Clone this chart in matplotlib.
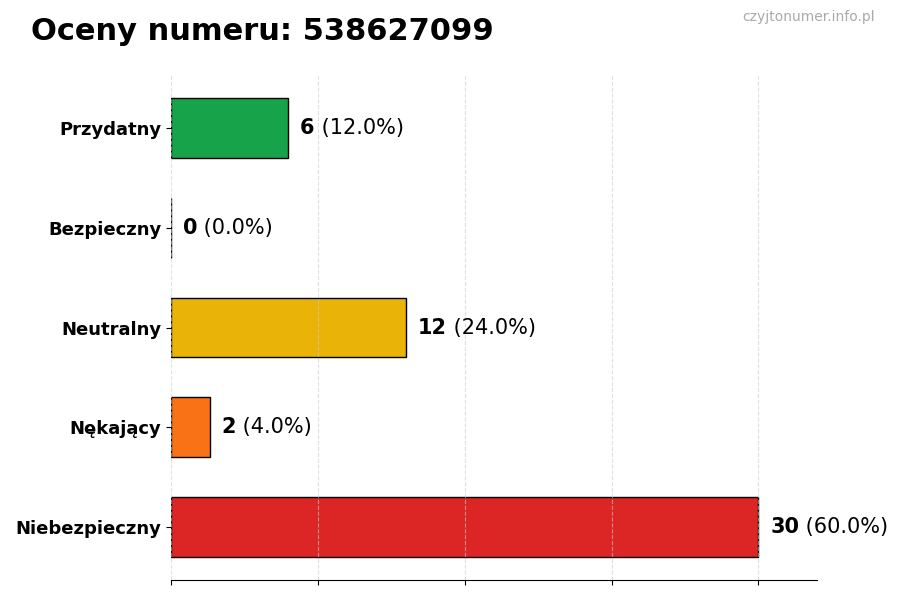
import matplotlib
matplotlib.use("Agg")
import matplotlib.pyplot as plt

categories = ["Niebezpieczny", "Nękający", "Neutralny", "Bezpieczny", "Przydatny"]
counts = [30, 2, 12, 0, 6]
percents = [60.0, 4.0, 24.0, 0.0, 12.0]
colors = ["#dc2626", "#f97316", "#eab308", "#9ca3af", "#16a34a"]
title = "Oceny numeru: 538627099"
watermark = "czyjtonumer.info.pl"

fig = plt.figure(figsize=(9, 6), dpi=100)
ax = fig.add_axes([0.19, 0.0333, 0.718, 0.8417])

y = list(range(len(categories)))
ax.barh(y, counts, height=0.6, color=colors, edgecolor="black", linewidth=1, zorder=2)
ax.set_yticks(y)
ax.set_yticklabels(categories, fontsize=13, fontweight="bold")
xmax = max(counts) * 1.1
ax.set_xlim(0, xmax)
ax.set_xticks([0, 7.5, 15, 22.5, 30])
ax.set_xticklabels([])
ax.set_axisbelow(False)
ax.grid(axis="x", linestyle="--", color="#cccccc", linewidth=0.8, alpha=0.6, zorder=3)
for s in ["top", "right", "left"]:
    ax.spines[s].set_visible(False)

for yi, c, p in zip(y, counts, percents):
    t = ax.text(c + xmax * 0.018, yi, f"{c}", fontsize=15, fontweight="bold", va="center", ha="left")
    ax.annotate(f" ({p:.1f}%)", xy=(1, 0.5), xycoords=t, fontsize=15, va="center", ha="left")

fig.text(0.034, 0.948, title, fontsize=22, fontweight="bold", va="center", ha="left")
fig.text(0.972, 0.971, watermark, fontsize=10, color="#aaaaaa", va="center", ha="right")

fig.savefig("out.png", dpi=100)
